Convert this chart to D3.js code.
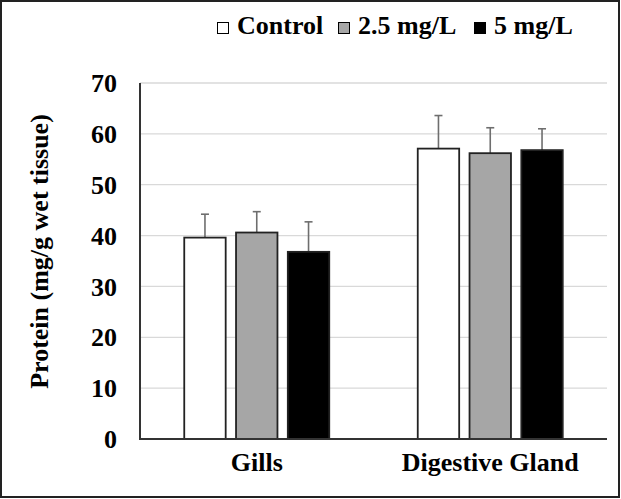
<!DOCTYPE html>
<html><head><meta charset="utf-8">
<script src="https://cdn.jsdelivr.net/npm/d3@7"></script>
<style>body{margin:0;background:#fff}svg{display:block}text{font-family:"Liberation Serif","Times New Roman",serif;font-weight:bold;fill:#000}</style>
</head><body>
<script>
const categories = ["Gills", "Digestive Gland"];
const seriesNames = ["Control", "2.5 mg/L", "5 mg/L"];
const seriesColors = ["#ffffff", "#a6a6a6", "#000000"];
const controlValues = [39.6, 57.1];
const controlErrors = [4.6, 6.5];
const lowValues = [40.6, 56.2];
const lowErrors = [4.1, 5.0];
const highValues = [36.8, 56.8];
const highErrors = [5.9, 4.2];
const yTicks = [0, 10, 20, 30, 40, 50, 60, 70];
const yTitle = "Protein (mg/g wet tissue)";

(function () {
const W = 621, H = 499;
const svg = d3.select("body").append("svg").attr("width", W).attr("height", H);
svg.append("rect").attr("x", 1).attr("y", 1).attr("width", W - 3).attr("height", H - 3)
  .attr("fill", "#fff").attr("stroke", "#222").attr("stroke-width", 2);

const mLeft = 140, mRight = 607, mTop = 83, mBottom = 439;
const x0 = d3.scaleBand().domain(categories).range([mLeft, mRight]);
const x1 = d3.scaleBand().domain(seriesNames).range([0, 145]).paddingInner(0.2);
const y = d3.scaleLinear().domain([0, 70]).range([mBottom, mTop]);

svg.append("g").selectAll("line").data(yTicks.filter(d => d > 0)).join("line")
  .attr("x1", mLeft).attr("x2", mRight).attr("y1", d => y(d)).attr("y2", d => y(d))
  .attr("stroke", "#d9d9d9").attr("stroke-width", 1.3);

const series = [
  {name: seriesNames[0], values: controlValues, errors: controlErrors, color: seriesColors[0]},
  {name: seriesNames[1], values: lowValues, errors: lowErrors, color: seriesColors[1]},
  {name: seriesNames[2], values: highValues, errors: highErrors, color: seriesColors[2]}
];

const groupW = x1.range()[1];
const data = [];
categories.forEach((c, ci) => series.forEach(s => data.push({c, s: s.name, v: s.values[ci], e: s.errors[ci], color: s.color})));
const bx = d => x0(d.c) + x0.bandwidth() / 2 - groupW / 2 + x1(d.s);

const eg = svg.append("g").attr("stroke", "#6e6e6e").attr("stroke-width", 1.6);
eg.selectAll("line.stem").data(data).join("line").attr("class", "stem")
  .attr("x1", d => bx(d) + x1.bandwidth() / 2).attr("x2", d => bx(d) + x1.bandwidth() / 2)
  .attr("y1", d => y(d.v)).attr("y2", d => y(d.v + d.e));
eg.selectAll("line.cap").data(data).join("line").attr("class", "cap")
  .attr("x1", d => bx(d) + x1.bandwidth() / 2 - 4).attr("x2", d => bx(d) + x1.bandwidth() / 2 + 4)
  .attr("y1", d => y(d.v + d.e)).attr("y2", d => y(d.v + d.e));

svg.append("g").selectAll("rect").data(data).join("rect")
  .attr("x", d => bx(d)).attr("width", x1.bandwidth())
  .attr("y", d => y(d.v)).attr("height", d => y(0) - y(d.v))
  .attr("fill", d => d.color).attr("stroke", "#222").attr("stroke-width", 1.8);

svg.append("line").attr("x1", mLeft).attr("x2", mLeft).attr("y1", mTop).attr("y2", mBottom)
  .attr("stroke", "#333").attr("stroke-width", 2);
svg.append("line").attr("x1", mLeft - 1).attr("x2", mRight).attr("y1", mBottom).attr("y2", mBottom)
  .attr("stroke", "#333").attr("stroke-width", 2);

svg.append("g").selectAll("text").data(yTicks).join("text")
  .attr("x", 117).attr("y", d => y(d)).attr("dy", "0.35em").attr("text-anchor", "end")
  .attr("font-size", 26).text(d => d);

svg.append("g").selectAll("text").data(categories).join("text")
  .attr("x", d => x0(d) + x0.bandwidth() / 2).attr("y", 471).attr("text-anchor", "middle")
  .attr("font-size", 26).text(d => d);

svg.append("text").attr("transform", "translate(48,251.5) rotate(-90)")
  .attr("text-anchor", "middle").attr("font-size", 26).text(yTitle);

const legendX = [217, 338, 474];
const lg = svg.append("g");
series.forEach((s, i) => {
  lg.append("rect").attr("x", legendX[i] + 0.5).attr("y", 22.5).attr("width", 11).attr("height", 11)
    .attr("fill", s.color).attr("stroke", "#000").attr("stroke-width", 1);
  lg.append("text").attr("x", legendX[i] + 20).attr("y", 34).attr("font-size", 26).text(s.name);
});
})();
</script>
</body></html>
